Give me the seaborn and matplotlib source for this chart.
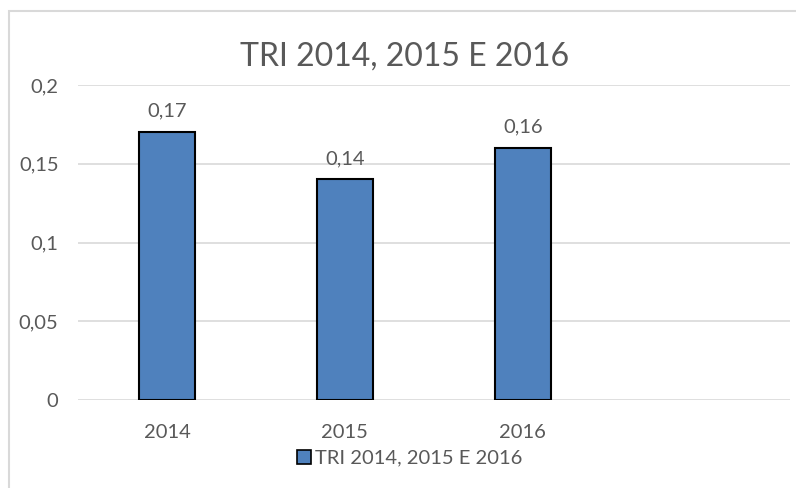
import matplotlib
matplotlib.use('Agg')
import matplotlib.pyplot as plt
import matplotlib.patches as mpatches
import pandas as pd
import seaborn as sns

years = ["2014", "2015", "2016"]
values = [0.17, 0.14, 0.16]
yticks = [0, 0.05, 0.1, 0.15, 0.2]
title = "TRI 2014, 2015 E 2016"

TEXT = "#595959"
BAR = "#4F81BD"
GRID = "#D9D9D9"

sns.set_theme(style="white")
plt.rcParams['font.family'] = ['Lato', 'DejaVu Sans']

df = pd.DataFrame({"year": years, "tri": values})

fig = plt.figure(figsize=(7.96, 4.88), dpi=100)
ax = fig.add_axes([0.098, 0.180, 0.894, 0.646])

sns.barplot(data=df, x="year", y="tri", order=years, color=BAR, width=0.315,
            edgecolor="black", linewidth=1.5, saturation=1, ax=ax, zorder=3)

# empty fourth slot like the original Excel chart
ax.set_xlim(-0.5, 3.5)
ax.set_ylim(0, 0.2)

def fmt(v):
    s = f"{v:.2f}".rstrip("0").rstrip(".")
    return s.replace(".", ",")

ax.set_yticks(yticks)
ax.set_yticklabels([fmt(v) for v in yticks])
ax.yaxis.grid(True, color=GRID, linewidth=1.2, zorder=0)
ax.set_axisbelow(True)
ax.tick_params(axis='both', length=0, labelsize=14.5, colors=TEXT)
ax.tick_params(axis='y', pad=14)
ax.tick_params(axis='x', pad=17)
ax.set_xlabel("")
ax.set_ylabel("")
for s in ax.spines.values():
    s.set_visible(False)

for i, v in enumerate(values):
    ax.annotate(fmt(v), (i, v), xytext=(0, 9), textcoords="offset points",
                ha="center", va="bottom", fontsize=14.5, color=TEXT)

fig.text(0.508, 0.885, title, ha="center", va="center", fontsize=23, color=TEXT)

handle = mpatches.Patch(facecolor=BAR, edgecolor="black", linewidth=1.2, label=title)
fig.legend(handles=[handle], loc="center", bbox_to_anchor=(0.515, 0.061), frameon=False,
           fontsize=14.5, labelcolor=TEXT, handlelength=0.7, handleheight=0.7,
           handletextpad=0.2, borderpad=0)

# outer chart border
fig.add_artist(mpatches.Rectangle((9 / 796, -0.01), 1.0, 1 - 11 / 488 + 0.01,
                                  transform=fig.transFigure, fill=False,
                                  edgecolor=GRID, linewidth=1.5))

fig.savefig("out.png", dpi=100)
